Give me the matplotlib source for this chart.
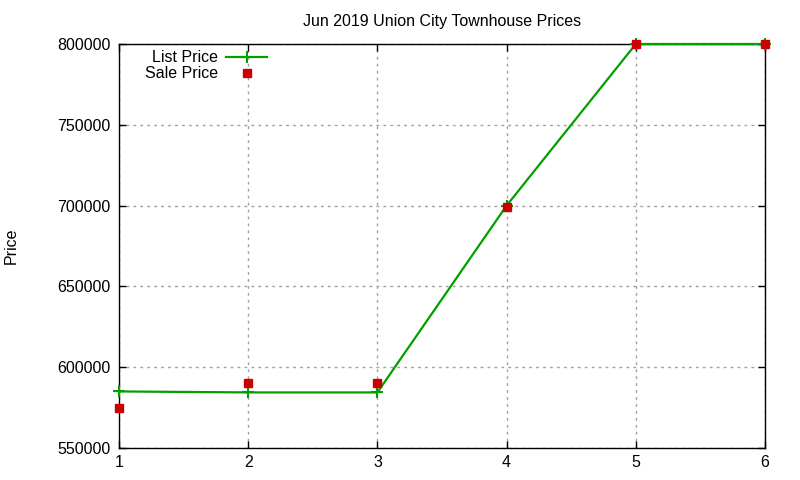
import matplotlib
matplotlib.use('Agg')
import matplotlib.pyplot as plt

# Data
months = [1, 2, 3, 4, 5, 6]
list_price = [585000, 584400, 584400, 700000, 800000, 800000]
sale_price = [575000, 590000, 590000, 699000, 800000, 800000]

plt.rcParams['font.family'] = ['Liberation Sans', 'DejaVu Sans']

fig = plt.figure(figsize=(8, 4.8), dpi=100)
ax = fig.add_axes([119 / 800, 1 - 448 / 480, (765 - 119) / 800, (448 - 44) / 480])

ax.plot(months, list_price, color='#00a000', linewidth=1.6, marker='+',
        markersize=8, markeredgewidth=1.5, label='List Price', clip_on=False, zorder=3)
ax.plot(months, sale_price, linestyle='none', marker='s', color='#cc0000',
        markersize=6, label='Sale Price', clip_on=False, zorder=4)

ax.set_xlim(1, 6)
ax.set_ylim(550000, 800000)
ax.set_xticks(months)
ax.set_yticks(range(550000, 800001, 50000))
ax.ticklabel_format(axis='y', style='plain', useOffset=False)

ax.tick_params(direction='in', length=5, width=1, top=True, right=True,
               labelsize=11.5, pad=6, colors='black')
ax.tick_params(axis='x', pad=5)
for s in ax.spines.values():
    s.set_linewidth(1)
    s.set_color('black')

ax.grid(True, linestyle=(0, (2, 3)), color='#a0a0a0', linewidth=1)
ax.set_axisbelow(True)

ax.set_title('Jun 2019 Union City Townhouse Prices', fontsize=11.5, pad=13)
ax.set_ylabel('Price', fontsize=11.5)
ax.yaxis.set_label_coords(-0.155, 0.5)

leg = ax.legend(loc='upper left', bbox_to_anchor=(0.03, 1.0), frameon=False,
                markerfirst=False, fontsize=11.5, handlelength=2.6,
                handletextpad=0.5, labelspacing=0.05, borderaxespad=0.0)
for t in leg.get_texts():
    t.set_ha('right')

fig.savefig('out.png', dpi=100)
